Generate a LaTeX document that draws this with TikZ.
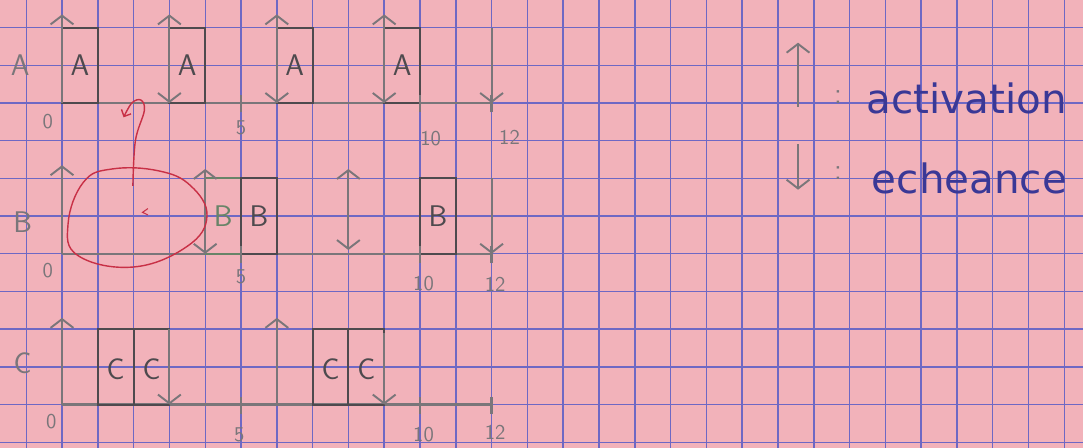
\documentclass[tikz,border=0pt]{standalone}
\usepackage{fontspec}
\newfontfamily\handfont{DejaVu Sans}
\usetikzlibrary{arrows.meta}
\definecolor{paper}{RGB}{242,178,186}
\definecolor{gridblue}{RGB}{110,104,196}
\definecolor{pencil}{RGB}{122,118,122}
\definecolor{slotgrey}{RGB}{78,74,78}
\definecolor{greenpencil}{RGB}{104,132,104}
\definecolor{redink}{RGB}{200,48,70}
\definecolor{blueink}{RGB}{58,56,150}

\begin{document}
\begin{tikzpicture}[
        x=0.716cm, y=0.754cm,
        gridline/.style={draw=gridblue, line width=0.8pt},
        axis/.style={draw=pencil, line width=1.3pt},
        slot/.style={draw=slotgrey, line width=1.2pt},
        act/.style={draw=pencil, line width=1.1pt, -{Straight Barb[length=5pt,width=13pt]}},
        due/.style={draw=pencil, line width=1.1pt, -{Straight Barb[length=5pt,width=13pt]}},
        both/.style={draw=pencil, line width=1.1pt, {Straight Barb[length=5pt,width=13pt]}-{Straight Barb[length=5pt,width=13pt]}},
        job/.style={font=\sffamily\fontsize{17}{19}\selectfont, text=slotgrey},
        task/.style={font=\sffamily\fontsize{17}{19}\selectfont, text=pencil},
        tick/.style={font=\sffamily\large, text=pencil},
        legend/.style={font=\handfont\fontsize{23}{25}\selectfont, text=blueink, anchor=west}
      ]
        % paper and grid
        \fill[paper] (-1.732,-9.151) rectangle (28.52,2.732);
        \useasboundingbox (-1.732,-9.151) rectangle (28.52,2.732);
        \foreach \x in {-1,...,28} \draw[gridline] (\x,-9.151) -- (\x,2.732);
        \foreach \y in {-9,...,2} \draw[gridline] (-1.732,\y) -- (28.52,\y);

        % task A
        \node[task] (labA) at (-1.17,1) {A};
        \draw[axis] (0,0) -- (12,0);
        \foreach \t in {0,3,6,9} {
          \draw[slot] (\t,0) rectangle ++(1,2);
          \node[job] (a\t) at (\t+0.5,1) {A};
          \draw[act] (\t,0) -- (\t,2.35);
        }
        \foreach \t in {3,6,9,12} \draw[due] (\t,2) -- (\t,0);
        \foreach \t in {5,10,12} \draw[axis] (\t,-0.25) -- (\t,0.2);
        \node[tick] (a0)   at (-0.4,-0.5) {0};
        \node[tick] (a5)   at (5,-0.65) {5};
        \node[tick] (a10)  at (10.3,-0.95) {10};
        \node[tick] (a12)  at (12.5,-0.9) {12};

        % task B
        \node[task] (labB) at (-1.1,-3.15) {B};
        \draw[axis] (0,-4) -- (12,-4);
        \draw[act] (0,-4) -- (0,-1.65);
        \draw[draw=greenpencil, line width=1.1pt] (4,-4) rectangle (5,-2);
        \node[job, text=greenpencil] (b4) at (4.5,-3) {B};
        \draw[slot] (5,-4) rectangle (6,-2);
        \node[job] (b5) at (5.5,-3) {B};
        \draw[act] (4,-4) -- (4,-1.75);
        \draw[due] (4,-2) -- (4,-4);
        \draw[both] (8,-3.9) -- (8,-1.75);
        \draw[slot] (10,-4) rectangle (11,-2);
        \node[job] (b10) at (10.5,-3) {B};
        \draw[due] (12,-2) -- (12,-4);
        \foreach \t in {5,10,12} \draw[axis] (\t,-4.25) -- (\t,-3.8);
        \node[tick] (b0)   at (-0.4,-4.45) {0};
        \node[tick] (b5l)  at (5,-4.6) {5};
        \node[tick] (b10l) at (10.1,-4.8) {10};
        \node[tick] (b12l) at (12.1,-4.8) {12};

        % task C
        \node[task] (labC) at (-1.1,-6.9) {C};
        \draw[axis] (0,-8) -- (12,-8);
        \draw[act] (0,-8) -- (0,-5.7);
        \draw[act] (6,-8) -- (6,-5.7);
        \foreach \t in {1,2,7,8} {
          \draw[slot] (\t,-8) rectangle ++(1,2);
          \node[job] (c\t) at (\t+0.5,-7.05) {C};
        }
        \draw[due] (3,-6) -- (3,-8);
        \draw[due] (9,-6.1) -- (9,-8);
        \foreach \t in {5,10,12} \draw[axis] (\t,-8.25) -- (\t,-7.8);
        \node[tick] (c0)   at (-0.3,-8.45) {0};
        \node[tick] (c5l)  at (4.95,-8.8) {5};
        \node[tick] (c10l) at (10.1,-8.8) {10};
        \node[tick] (c12l) at (12.1,-8.75) {12};

        % red remark
        \draw[redink, line width=0.8pt] plot[smooth cycle, tension=0.7] coordinates {
          (0.17,-3.2) (0.6,-2.1) (1.4,-1.75) (2.7,-1.8) (3.6,-2.2)
          (4.05,-3.0) (3.5,-3.8) (2.0,-4.35) (0.45,-4.05)};
        \draw[redink, line width=0.8pt, -{Straight Barb[length=3pt,width=6pt]}]
          plot[smooth, tension=0.6] coordinates {
          (1.98,-2.2) (2.05,-1.0) (2.3,-0.2) (2.2,0.08) (1.95,0.0) (1.72,-0.38)};
        \draw[redink, line width=0.6pt] (2.4,-2.8) -- (2.25,-2.9) -- (2.4,-2.97);

        % legend
        \draw[act] (20.56,-0.1) -- (20.56,1.6);
        \node[task] (col1) at (21.68,0.15) {:};
        \node[legend] (activ) at (22.3,0.12) {activation};
        \draw[due] (20.56,-1.1) -- (20.56,-2.3);
        \node[task] (col2) at (21.68,-1.85) {:};
        \node[legend] (ech) at (22.45,-2.0) {echeance};
      \end{tikzpicture}
\end{document}
